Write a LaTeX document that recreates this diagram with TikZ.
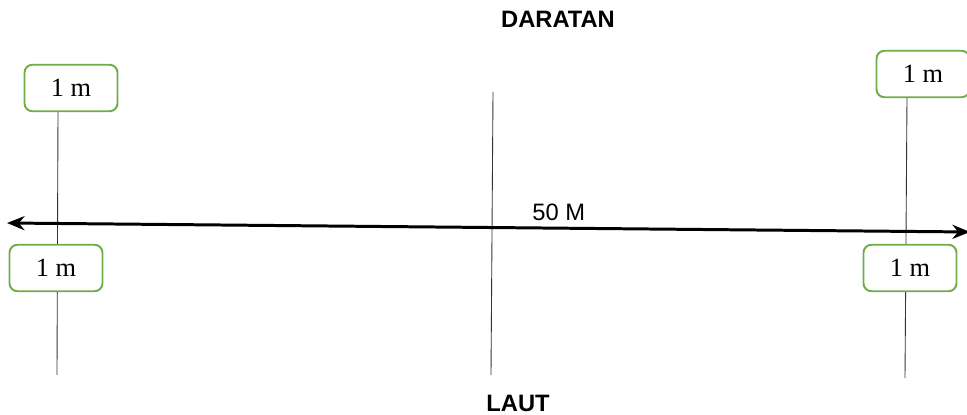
\documentclass[tikz,border=0pt]{standalone}
\usepackage{fontspec}
\setmainfont{Liberation Serif}
\setsansfont{Liberation Sans}
\usetikzlibrary{arrows.meta,backgrounds}

\definecolor{boxgreen}{RGB}{112,173,71}
\tikzset{
  meterbox/.style={draw=boxgreen, line width=1.1pt, rounded corners=4.5pt, fill=white,
    minimum width=1.86cm, minimum height=0.93cm, inner sep=0pt, font=\fontsize{15}{17}\selectfont},
  marker/.style={draw=black!80, line width=0.5pt},
  sidelabel/.style={font=\sffamily\bfseries\fontsize{13.5}{16}\selectfont}
}

\begin{document}
\begin{tikzpicture}[x=0.02cm, y=-0.02cm, >={Stealth[length=10pt,width=8pt]}, thick]
    \useasboundingbox (0,0) rectangle (967,415);

    \node (daratan) [sidelabel] at (558,19) {DARATAN};
    \node (laut) [sidelabel] at (518,403) {LAUT};

    \node (boxTL) [meterbox] at (71,88) {1 m};
    \node (boxBL) [meterbox] at (56,268) {1 m};
    \node (boxTR) [meterbox] at (923,74) {1 m};
    \node (boxBR) [meterbox] at (910,268) {1 m};

    \coordinate (leftTop) at (58,111);
    \coordinate (leftEnd) at (57,375);
    \coordinate (midTop) at (493,92);
    \coordinate (midEnd) at (491,375);
    \coordinate (rightTop) at (907,97);
    \coordinate (rightEnd) at (905,378);
    \coordinate (shoreW) at (7,223);
    \coordinate (shoreE) at (970,232);

    \begin{scope}[on background layer]
        \draw[marker] (leftTop) -- (leftEnd);
        \draw[marker] (midTop) -- (midEnd);
        \draw[marker] (rightTop) -- (rightEnd);
        \draw[<->, line width=1.7pt] (shoreW) -- node[pos=0.573, above, font=\sffamily\fontsize{13.5}{16}\selectfont] {50 M} (shoreE);
    \end{scope}
\end{tikzpicture}
\end{document}
